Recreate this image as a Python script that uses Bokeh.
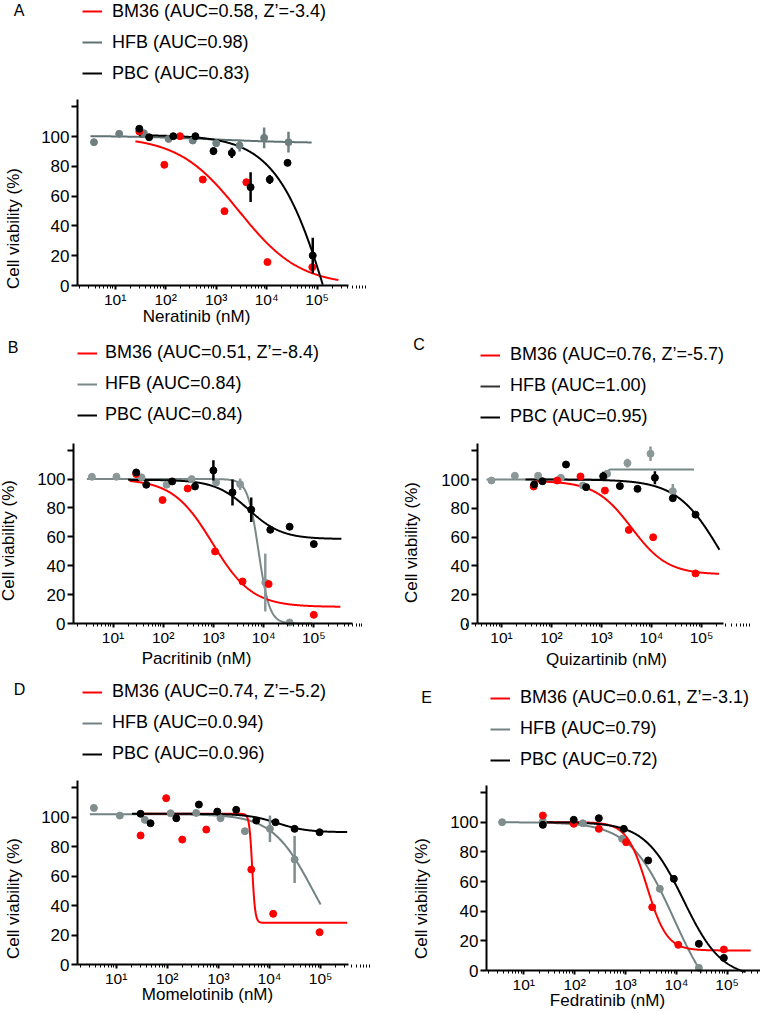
import numpy as np
from bokeh.plotting import figure
from bokeh.layouts import column, row
from bokeh.models import FixedTicker, Range1d, Label, Legend, LegendItem
from bokeh.embed import file_html
from bokeh.resources import INLINE
from bokeh.core.properties import value

FONT = "Liberation Sans"
RED = "#FF0000"
BLACK = "#000000"

# ---------------- data ----------------
# fit params: [top, bottom, log10 EC50, hill, log10 start, log10 end]
# Panel A - Neratinib
A_HFB_x = [3.8, 12, 37, 114, 344, 1000, 2900, 8900, 27000]
A_HFB_y = [96.2, 101.8, 102.2, 98.4, 97.3, 95.5, 94.0, 99.1, 96.2]
A_HFB_e = [0, 0, 0, 0, 0, 0, 4, 7, 7]
A_BM36_x = [30, 94, 192, 543, 1460, 3950, 10350, 80000]
A_BM36_y = [103.4, 81.0, 100.2, 71.1, 49.9, 69.3, 15.7, 12.3]
A_PBC_x = [30, 47, 141, 387, 883, 2040, 4800, 11500, 25900, 81600]
A_PBC_y = [105.2, 99.5, 100.2, 100.2, 90.2, 89.0, 66.0, 71.1, 82.3, 20.1]
A_PBC_e = [0, 0, 0, 0, 2.5, 3.5, 10, 3, 2, 12]
A_BM36_fit = [100, 0, 3.45, 0.72, 1.40, 5.42]
A_HFB_fit = [100.5, 95.5, 3.0, 0.5, 0.51, 4.89]
A_PBC_fit = [101, -150, 5.33, 0.8, 1.47, 5.11]
A_LEG = ["BM36 (AUC=0.58, Z\u2019=-3.4)", "HFB (AUC=0.98)", "PBC (AUC=0.83)"]

# Panel B - Pacritinib
B_HFB_x = [3.8, 11.7, 37, 117, 369, 1130, 3410, 10800, 33000]
B_HFB_y = [101.6, 101.6, 101.2, 96.1, 100.0, 97.7, 96.5, 28.4, 0.7]
B_HFB_e = [0, 0, 0, 0, 0, 0, 4, 20, 0]
B_BM36_x = [29, 97, 307, 1080, 3800, 12600, 100000]
B_BM36_y = [103.5, 85.5, 93.5, 49.9, 29.1, 27.3, 6.0]
B_PBC_x = [29, 46, 151, 430, 1000, 2400, 5670, 13600, 33000, 100000]
B_PBC_y = [104.6, 96.1, 98.4, 94.9, 106.0, 90.8, 78.8, 64.9, 67.0, 55.0]
B_PBC_e = [0, 0, 0, 0, 7, 9, 8.5, 2, 0, 0]
B_BM36_fit = [100, 11.5, 2.98, 1.1, 1.33, 5.53]
B_HFB_fit = [100, 0, 3.9, 4.0, 0.48, 4.97]
B_PBC_fit = [99.5, 58.5, 3.7, 1.3, 1.30, 5.55]
B_LEG = ["BM36 (AUC=0.51, Z\u2019=-8.4)", "HFB (AUC=0.84)", "PBC (AUC=0.84)"]

# Panel C - Quizartinib
C_HFB_x = [6.3, 18.5, 54, 154, 423, 1300, 3300, 9550, 26700]
C_HFB_y = [99.3, 102.6, 102.6, 101.2, 95.8, 104.0, 111.4, 117.9, 91.9]
C_HFB_e = [0, 0, 0, 0, 0, 0, 3, 5, 5]
C_BM36_x = [44, 130, 380, 1170, 3520, 10800, 76000]
C_BM36_y = [95.1, 99.3, 102.1, 92.3, 65.0, 59.9, 34.8]
C_PBC_x = [45, 66, 195, 493, 1080, 2330, 5250, 11700, 26700, 76000]
C_PBC_y = [96.5, 98.8, 110.4, 94.7, 102.3, 95.4, 93.5, 101.2, 87.0, 75.6]
C_PBC_e = [0, 0, 0, 0, 3, 0, 0, 4.5, 0, 0]
C_BM36_fit = [99, 34, 3.6, 1.2, 1.65, 5.35]
C_HFB_fit = [100, 107, 3.12, 40, 0.70, 4.85]
C_PBC_fit = [100, 0, 5.38, 1.0, 1.48, 5.36]
C_LEG = ["BM36 (AUC=0.76, Z\u2019=-5.7)", "HFB (AUC=1.00)", "PBC (AUC=0.95)"]

# Panel D - Momelotinib
D_HFB_x = [3.66, 11.8, 36.4, 116, 368, 1100, 3300, 10200, 31000]
D_HFB_y = [106.3, 101.1, 98.2, 102.7, 102.9, 99.3, 90.5, 92.1, 71.3]
D_HFB_e = [0, 0, 0, 0, 0, 0, 0, 9, 16]
D_BM36_x = [30, 95, 196, 578, 4400, 11800, 95500]
D_BM36_y = [87.6, 112.9, 84.8, 91.6, 64.5, 34.4, 21.9]
D_PBC_x = [30, 47, 150, 415, 950, 2230, 5500, 13100, 31000, 95500]
D_PBC_y = [102.3, 95.9, 99.3, 108.6, 103.8, 105.0, 97.7, 96.6, 92.1, 89.8]
D_PBC_e = [0, 0, 0, 0, 0, 0, 0, 0, 0, 0]
D_BM36_fit = [102.3, 28.3, 3.662, 15, 1.41, 5.52]
D_HFB_fit = [102, 0, 4.84, 1.1, 0.485, 5.0]
D_PBC_fit = [102.3, 89.8, 4.15, 1.5, 1.31, 5.52]
D_LEG = ["BM36 (AUC=0.74, Z\u2019=-5.2)", "HFB (AUC=0.0.94)", "PBC (AUC=0.0.96)"]

# Panel E - Fedratinib
E_HFB_x = [3.75, 23.7, 145, 860, 4730, 27700]
E_HFB_y = [100.0, 100.4, 99.3, 88.8, 55.1, 1.8]
E_HFB_e = [0, 0, 0, 0, 0, 0]
E_BM36_x = [23.7, 96, 299, 1030, 3350, 10900, 86000]
E_BM36_y = [104.5, 98.9, 95.5, 86.5, 42.7, 17.3, 14.2]
E_PBC_x = [23.7, 96, 299, 927, 2790, 8930, 27700, 86000]
E_PBC_y = [98.2, 101.6, 102.7, 95.5, 74.2, 61.8, 18.0, 8.5]
E_PBC_e = [0, 0, 0, 0, 0, 0, 0, 0]
E_BM36_fit = [100, 13.5, 3.42, 2.2, 1.40, 5.46]
E_HFB_fit = [100, -30, 3.95, 1.0, 0.54, 4.50]
E_PBC_fit = [100, -5, 4.14, 1.15, 1.37, 5.36]
E_LEG = ["BM36 (AUC=0.0.61, Z\u2019=-3.1)", "HFB (AUC=0.79)", "PBC (AUC=0.72)"]

X_MAJOR = [10, 100, 1000, 10000, 100000]
X_LABELS = ["10\u00b9", "10\u00b2", "10\u00b3", "10\u2074", "10\u2075"]
Y_TICKS = [0, 20, 40, 60, 80, 100, 120]
Y_LABELS = ["0", "20", "40", "60", "80", "100", ""]
X_MINOR = [m * 10 ** e for e in range(0, 6) for m in range(2, 10)]


def fit_curve(par):
    top, bot, logec, hill, l0, l1 = par
    lx = np.linspace(l0, l1, 500)
    y = bot + (top - bot) / (1 + 10 ** (hill * (lx - logec)))
    return 10 ** lx, y


def make_panel(g, d):
    # g: layout geometry in page pixels; the frame fills the whole canvas
    x0, y0, w, h = g["x0"], g["y0"], g["w"], g["h"]
    fl, fr, yax, ppu, t10, dec = g["fl"], g["fr"], g["yax"], g["ppu"], g["t10"], g["dec"]

    def lg(px):
        return 1 + (px - t10) / dec

    yr = Range1d((yax - (y0 + h)) / ppu, (yax - y0) / ppu)
    xr = Range1d(10 ** lg(x0), 10 ** lg(x0 + w))
    p = figure(width=w, height=h, x_axis_type="log", x_range=xr, y_range=yr,
               output_backend="svg", toolbar_location=None,
               min_border=0, min_border_left=0, min_border_right=0,
               min_border_top=0, min_border_bottom=0)
    p.outline_line_color = None
    p.grid.visible = False
    p.background_fill_color = "white"
    p.border_fill_color = "white"

    xa = p.xaxis[0]
    xa.fixed_location = 0
    xa.bounds = (10 ** lg(fl), 10 ** lg(fr))
    xa.ticker = FixedTicker(ticks=X_MAJOR, minor_ticks=X_MINOR)
    xa.major_label_overrides = dict(zip(X_MAJOR, X_LABELS))
    ya = p.yaxis[0]
    ya.fixed_location = 10 ** lg(fl)
    ya.bounds = (0, 125)
    ya.ticker = FixedTicker(ticks=Y_TICKS)
    ya.major_label_overrides = dict(zip(Y_TICKS, Y_LABELS))
    for ax in (xa, ya):
        ax.axis_line_width = 2
        ax.axis_line_color = BLACK
        ax.major_tick_line_width = 2
        ax.major_tick_line_color = BLACK
        ax.major_tick_in = 0
        ax.major_label_text_font = FONT
        ax.major_label_text_color = BLACK
    xa.major_label_text_font_size = "15.5px"
    ya.major_label_text_font_size = "17px"
    xa.major_tick_out = 4
    xa.minor_tick_out = 3
    xa.minor_tick_in = 0
    xa.minor_tick_line_width = 1
    xa.minor_tick_line_color = BLACK
    xa.major_label_standoff = 1
    ya.major_tick_out = 6
    ya.minor_tick_line_color = None
    ya.major_label_standoff = 2

    gray_pt, gray_ln = d["gray_pt"], d["gray_ln"]
    for key, col in (("HFB_fit", gray_ln), ("BM36_fit", RED), ("PBC_fit", BLACK)):
        cx, cy = fit_curve(d[key])
        p.line(cx, cy, line_color=col, line_width=2)
    hx, hy, he = np.array(d["HFB_x"]), np.array(d["HFB_y"]), np.array(d["HFB_e"])
    m = he > 0
    p.segment(x0=hx[m], y0=(hy - he)[m], x1=hx[m], y1=(hy + he)[m], line_color=gray_pt, line_width=2.5)
    p.scatter(hx, hy, size=7, fill_color=gray_pt, line_color=gray_pt)
    p.scatter(d["BM36_x"], d["BM36_y"], size=7, fill_color=RED, line_color=RED)
    kx, ky, ke = np.array(d["PBC_x"]), np.array(d["PBC_y"]), np.array(d["PBC_e"])
    m = ke > 0
    p.segment(x0=kx[m], y0=(ky - ke)[m], x1=kx[m], y1=(ky + ke)[m], line_color=BLACK, line_width=2.5)
    p.scatter(kx, ky, size=7, fill_color=BLACK, line_color=BLACK)

    # legend (proxy renderers with a single undrawn point)
    items = []
    for lab, col in zip(d["leg"], [RED, d["gray_leg"], BLACK]):
        r = p.line([np.nan], [np.nan], line_color=col, line_width=2)
        items.append(LegendItem(label=value(lab), renderers=[r]))
    vx = g["leg_x"] - x0
    vy = (y0 + h) - (g["leg_y"] + 80)
    leg = Legend(items=items, location=(vx, vy), orientation="vertical",
                 label_text_font=FONT, label_text_font_size="18px",
                 label_text_color=BLACK,
                 glyph_width=20, glyph_height=20, label_height=20,
                 spacing=10, padding=0, margin=0,
                 label_standoff=g["stand"],
                 border_line_color=None, background_fill_alpha=0)
    p.add_layout(leg)

    def put(text, rx, ry, size, angle=0.0):
        p.add_layout(Label(x=rx - x0, y=(y0 + h) - ry, x_units="screen", y_units="screen",
                           text=text, text_font=FONT, text_font_size=size,
                           text_color=BLACK, text_align="center",
                           text_baseline="middle", angle=angle))

    put(d["letter"], g["let"][0], g["let"][1], "16px")
    put(d["xtitle"], g["xt"][0], g["xt"][1], "17px")
    put("Cell viability (%)", g["yt"][0], g["yt"][1], "17px", np.pi / 2)
    return p


def pdata(prefix, letter, xtitle, leg, gray_pt, gray_ln, gray_leg):
    G = globals()
    d = {k: G[prefix + "_" + k] for k in
         ["HFB_x", "HFB_y", "HFB_e", "BM36_x", "BM36_y", "PBC_x", "PBC_y", "PBC_e",
          "BM36_fit", "HFB_fit", "PBC_fit"]}
    d.update(letter=letter, xtitle=xtitle, leg=leg, gray_pt=gray_pt,
             gray_ln=gray_ln, gray_leg=gray_leg)
    return d


GA = dict(x0=0, y0=0, w=380, h=325, fl=77, fr=348, yax=285, ppu=1.49,
          t10=114.7, dec=50.5, leg_x=82, leg_y=3.5, stand=10,
          let=(18.5, 10), xt=(196, 316), yt=(13, 228))
GB = dict(x0=0, y0=325, w=380, h=345, fl=73, fr=352, yax=623, ppu=1.444,
          t10=112.5, dec=50.2, leg_x=77, leg_y=345, stand=8,
          let=(12.5, 346.5), xt=(196, 658), yt=(8, 540))
GC = dict(x0=380, y0=325, w=380, h=345, fl=477, fr=723, yax=623, ppu=1.44,
          t10=501, dec=50, leg_x=480, leg_y=347, stand=10,
          let=(418.5, 344), xt=(606, 659), yt=(411, 542))
GD = dict(x0=0, y0=670, w=380, h=340, fl=77, fr=348, yax=964, ppu=1.473,
          t10=115.7, dec=51.1, leg_x=82, leg_y=684, stand=10,
          let=(19, 688.5), xt=(207, 994), yt=(13, 898))
GE = dict(x0=380, y0=670, w=380, h=340, fl=486, fr=760, yax=970, ppu=1.483,
          t10=523.3, dec=50.85, leg_x=490, leg_y=690, stand=10,
          let=(426, 696.5), xt=(607, 1000), yt=(421, 898))

pA = make_panel(GA, pdata("A", "A", "Neratinib (nM)", A_LEG, "#6F7F7F", "#5F7272", "#5F7272"))
pB = make_panel(GB, pdata("B", "B", "Pacritinib (nM)", B_LEG, "#8C9898", "#7A8888", "#7A8888"))
pC = make_panel(GC, pdata("C", "C", "Quizartinib (nM)", C_LEG, "#8C9898", "#7A8888", "#333333"))
pD = make_panel(GD, pdata("D", "D", "Momelotinib (nM)", D_LEG, "#7F8D8D", "#728282", "#728282"))
pE = make_panel(GE, pdata("E", "E", "Fedratinib (nM)", E_LEG, "#7F8D8D", "#728282", "#728282"))

layout = column(row(pA), row(pB, pC), row(pD, pE))
open("out.html", "w").write(file_html(layout, INLINE))
